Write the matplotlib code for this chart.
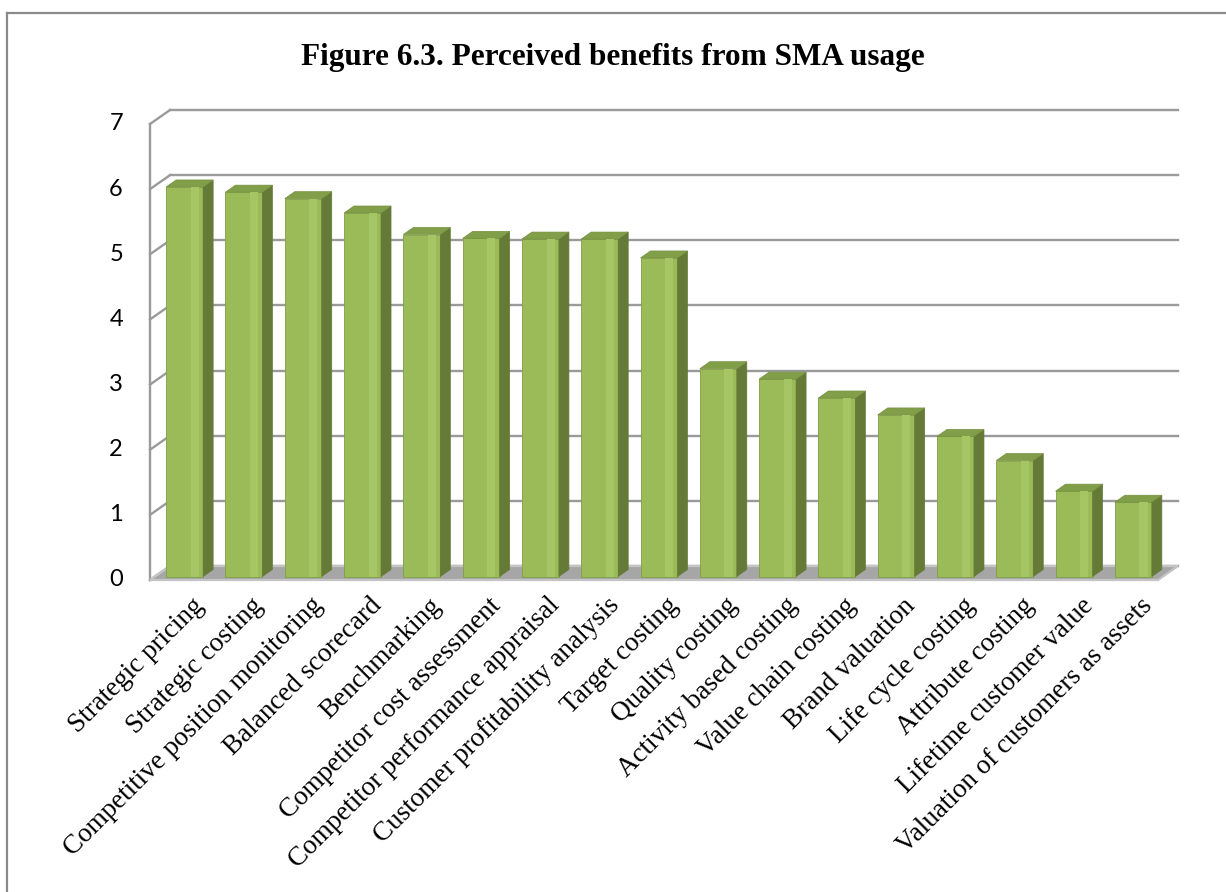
import numpy as np
import matplotlib.pyplot as plt
from matplotlib.patches import Polygon
from matplotlib.lines import Line2D

# ── Datos ─────────────────────────────────────────────────
categorias = [
    'Strategic pricing', 'Strategic costing', 'Competitive position monitoring',
    'Balanced scorecard', 'Benchmarking', 'Competitor cost assessment',
    'Competitor performance appraisal', 'Customer profitability analysis',
    'Target costing', 'Quality costing', 'Activity based costing',
    'Value chain costing', 'Brand valuation', 'Life cycle costing',
    'Attribute costing', 'Lifetime customer value',
    'Valuation of customers as assets',
]
valores = [5.98, 5.90, 5.80, 5.58, 5.25, 5.19, 5.18, 5.18, 4.89,
           3.19, 3.03, 2.74, 2.48, 2.15, 1.78, 1.31, 1.14]
yticks = [0, 1, 2, 3, 4, 5, 6, 7]
titulo = 'Figure 6.3. Perceived benefits from SMA usage'

# ── Estilo ────────────────────────────────────────────────
VERDE     = '#9bbb59'
VERDE_LUZ = '#a6c565'
VERDE_LAD = '#647a36'
VERDE_TOP = '#819e49'
GRIS_LIN  = '#9a9a9a'
GRIS_PISO = '#a6a6a6'

W, H = 1226, 892
fig = plt.figure(figsize=(W / 100, H / 100), dpi=100)

# plano frontal del gráfico en píxeles
x0, x1, y0, y1 = 150, 1158, 580, 124
ax = fig.add_axes([x0 / W, (H - y0) / H, (x1 - x0) / W, (y0 - y1) / H])
n = len(categorias)
ax.set_xlim(0, n)
ax.set_ylim(0, 7)
ax.axis('off')

# profundidad (perspectiva) en unidades de datos
px_x = (x1 - x0) / n
px_y = (y0 - y1) / 7
dX, dY = 20 / px_x, 14 / px_y

# pared del fondo: líneas de cuadrícula y diagonales laterales
for y in yticks:
    ax.add_line(Line2D([dX, n + dX], [y + dY, y + dY], color=GRIS_LIN,
                       lw=1.7, clip_on=False, zorder=1))
    ax.add_line(Line2D([0, dX], [y, y + dY], color=GRIS_LIN,
                       lw=1.7, clip_on=False, zorder=1))
ax.add_line(Line2D([0, 0], [0, 7], color=GRIS_LIN, lw=1.7,
                   clip_on=False, zorder=1))

# piso
piso = Polygon([(0, 0), (n, 0), (n + dX, dY), (dX, dY)], closed=True,
               facecolor=GRIS_PISO, edgecolor='#c4c4c4', lw=1.6,
               clip_on=False, zorder=2)
ax.add_patch(piso)

# barras 3D: cara frontal, lateral y superior
ancho = 37 / px_x
hw = ancho / 2
f0x, f0y = 0.25 * dX, 0.25 * dY
f1x, f1y = 0.75 * dX, 0.75 * dY
centros = np.arange(n) + 0.5

ax.bar(centros + f0x, valores, width=ancho, bottom=f0y, color=VERDE,
       edgecolor='#809d45', lw=0.6, zorder=3, clip_on=False)
# brillo suave cerca del borde derecho
ax.bar(centros + f0x + hw * 0.55, valores, width=ancho * 0.22, bottom=f0y,
       color=VERDE_LUZ, lw=0, zorder=3.5, clip_on=False)

for c, v in zip(centros, valores):
    lado = Polygon([(c + hw + f0x, f0y), (c + hw + f1x, f1y),
                    (c + hw + f1x, v + f1y), (c + hw + f0x, v + f0y)],
                   closed=True, facecolor=VERDE_LAD, edgecolor=VERDE_LAD,
                   lw=0.5, zorder=3, clip_on=False)
    tapa = Polygon([(c - hw + f0x, v + f0y), (c + hw + f0x, v + f0y),
                    (c + hw + f1x, v + f1y), (c - hw + f1x, v + f1y)],
                   closed=True, facecolor=VERDE_TOP, edgecolor='#75913f',
                   lw=0.5, zorder=3, clip_on=False)
    ax.add_patch(lado)
    ax.add_patch(tapa)

# etiquetas del eje Y
for y in yticks:
    ax.text(-27 / px_x, y, str(y), ha='right', va='center',
            fontsize=17, family='Lato', color='#000000')

# etiquetas de categorías, giradas 45°
for c, lab in zip(centros, categorias):
    ax.text(c + 0.2, -0.2, lab, rotation=45, rotation_mode='anchor',
            ha='right', va='top', fontsize=19.5, family='Liberation Serif')

# título
fig.text(0.5, 1 - 58 / H, titulo, ha='center', va='center',
         fontsize=22.5, fontweight='bold', family='Liberation Serif')

# marco exterior
fig.add_artist(Line2D([7 / W, 7 / W], [0, 1 - 13 / H], color='#8a8a8a',
                      lw=1.6, transform=fig.transFigure))
fig.add_artist(Line2D([7 / W, 1], [1 - 13 / H, 1 - 13 / H], color='#8a8a8a',
                      lw=1.6, transform=fig.transFigure))

fig.savefig('out.png', dpi=100)
